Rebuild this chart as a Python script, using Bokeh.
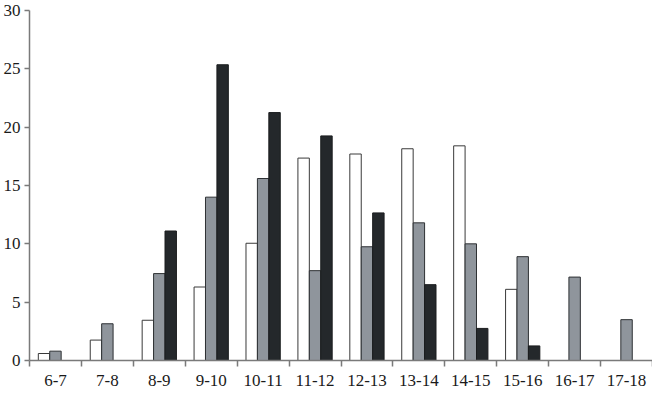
from bokeh.plotting import figure
from bokeh.models import ColumnDataSource, FixedTicker, Range1d
from bokeh.embed import file_html
from bokeh.resources import INLINE

categories = ["6-7", "7-8", "8-9", "9-10", "10-11", "11-12",
              "12-13", "13-14", "14-15", "15-16", "16-17", "17-18"]
white_vals = [0.6, 1.75, 3.45, 6.3, 10.05, 17.35, 17.7, 18.15, 18.4, 6.1, 0, 0]
gray_vals = [0.8, 3.15, 7.45, 14.0, 15.6, 7.7, 9.75, 11.8, 10.0, 8.9, 7.15, 3.5]
black_vals = [0, 0, 11.1, 25.35, 21.25, 19.25, 12.65, 6.5, 2.75, 1.25, 0, 0]
y_ticks = [0, 5, 10, 15, 20, 25, 30]

series = [
    (white_vals, -0.22, "#ffffff", "#3a3a3a"),
    (gray_vals, 0.0, "#8f959c", "#2e3134"),
    (black_vals, 0.22, "#24282b", "#1a1c1e"),
]

p = figure(width=652, height=392, output_backend="svg", toolbar_location=None,
           x_range=Range1d(0, len(categories)), y_range=Range1d(0, 30),
           min_border_left=24, min_border_right=0, min_border_top=10,
           min_border_bottom=32)
p.outline_line_color = None
p.xgrid.grid_line_color = None
p.ygrid.grid_line_color = None
p.background_fill_color = "white"
p.border_fill_color = "white"

for vals, off, fill, line in series:
    xs = [i + 0.5 + off for i, v in enumerate(vals) if v > 0]
    tops = [v for v in vals if v > 0]
    src = ColumnDataSource(dict(x=xs, top=tops))
    p.vbar(x="x", top="top", bottom=0, width=0.22, source=src,
           fill_color=fill, line_color=line, line_width=1)

centers = [i + 0.5 for i in range(len(categories))]
p.xaxis.ticker = FixedTicker(ticks=centers, minor_ticks=list(range(len(categories) + 1)))
p.xaxis.major_label_overrides = {c: lab for c, lab in zip(centers, categories)}
p.xaxis.major_tick_out = 0
p.xaxis.major_tick_in = 0
p.xaxis.minor_tick_out = 6
p.xaxis.minor_tick_in = 0
p.xaxis.minor_tick_line_color = "#7a7a7a"
p.xaxis.minor_tick_line_width = 1.5
p.xaxis.major_label_standoff = 8

p.yaxis.ticker = FixedTicker(ticks=y_ticks, minor_ticks=[])
p.yaxis.major_tick_out = 5
p.yaxis.major_tick_in = 0
p.yaxis.major_tick_line_color = "#7a7a7a"
p.yaxis.major_tick_line_width = 1.5
p.yaxis.major_label_standoff = 4

for ax in (p.xaxis, p.yaxis):
    ax.axis_line_color = "#7a7a7a"
    ax.axis_line_width = 1.5
    ax.major_label_text_font = "Liberation Serif"
    ax.major_label_text_font_size = "17px"
    ax.major_label_text_color = "#1a1a1a"

open("out.html", "w").write(file_html(p, INLINE))
